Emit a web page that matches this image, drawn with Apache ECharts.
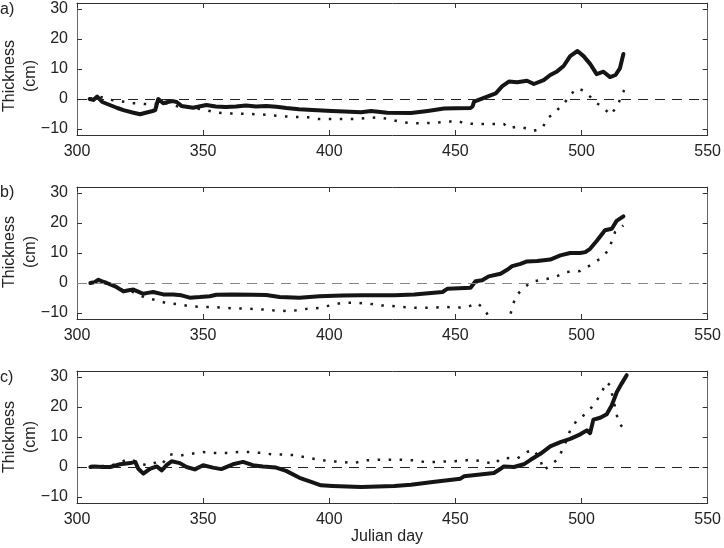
<!DOCTYPE html>
<html>
<head>
<meta charset="utf-8">
<script src="https://cdn.jsdelivr.net/npm/echarts@6/dist/echarts.min.js"></script>
<style>
html,body{margin:0;padding:0;background:#fff;}
#chart{width:724px;height:548px;}
</style>
</head>
<body>
<div id="chart"></div>
<script>
// ---- data (Julian day, thickness in cm) ----
var panelLabels = ['a)', 'b)', 'c)'];
var xTicks = [300, 350, 400, 450, 500, 550];
var yTicks = [-10, 0, 10, 20, 30];

var aSolid = [[305,0],[306.5,-0.3],[308,0.8],[310,-1],[313,-2],[316,-3],[318.4,-3.7],[322,-4.5],[325,-5.1],[327.6,-4.5],[330,-4],[331,-3.7],[332.2,0],[334.2,-1.4],[336,-1],[338,-0.7],[339.5,-1],[341.4,-2.3],[346,-2.9],[351.3,-2],[355,-2.5],[359,-2.7],[363,-2.5],[367,-2.2],[371,-2.5],[375,-2.3],[379,-2.6],[383,-3],[388,-3.4],[393.4,-3.7],[401,-4],[406,-4.2],[412.6,-4.4],[416.6,-4],[423,-4.6],[432.4,-4.7],[439,-4],[445.5,-3.2],[450,-3.1],[456,-3],[456.8,-2.5],[457.4,-0.9],[461.3,0.4],[466,1.9],[468.6,4.3],[471.2,5.8],[474.5,5.6],[478.4,6.1],[481.1,5.0],[485,6.3],[487.6,8],[490.3,9.2],[492.9,11],[495.5,14.3],[498.4,16],[500.8,14.3],[503.4,11.7],[506,8.3],[508.7,9.1],[511.3,7.3],[513.5,8],[515.2,10.2],[516.6,15]];
var aDotted = [[305,0],[307,0.5],[309.2,0.7],[313.8,-0.3],[317.8,-0.8],[322.4,-1.4],[327,-1.7],[331,-1.7],[333,-1],[336,-1.5],[340.8,-2.7],[345.4,-3],[350,-3.5],[355,-4.5],[359,-4.8],[363.8,-4.9],[368.4,-5],[373,-5.1],[377.6,-5.5],[382.2,-5.8],[386.9,-6],[391.4,-6.1],[396,-6.7],[400.7,-6.7],[405.3,-6.7],[409.9,-6.7],[413.9,-6.4],[419.2,-6.1],[423.8,-6.7],[428.4,-7.7],[433,-8.1],[437.6,-8.1],[441.6,-7.9],[446.2,-7.7],[450.8,-7.2],[453.4,-8.1],[457.4,-8.3],[461.3,-8.3],[465.3,-8.3],[469.2,-8.3],[471.2,-9.8],[474.5,-9.2],[478.4,-9.8],[481.1,-10.6],[484.4,-9.8],[486.5,-6.4],[489.1,-4.8],[491.6,-2.6],[493.6,-0.9],[495.5,1.3],[498.2,3.6],[500.8,2.8],[503.4,0.8],[506,-1.4],[508.7,-2.8],[511.3,-5.3],[513.9,-2.8],[515.8,0.8],[516.9,3]];

var bSolid = [[305.3,0],[307,0.3],[308.5,1.1],[310,0.5],[311.8,0],[315.1,-1.1],[318.4,-2.8],[320,-2.5],[322.3,-2.2],[324,-2.8],[326.3,-3.6],[328,-3.3],[330.2,-3],[334.2,-3.8],[338.1,-3.8],[341.4,-4.1],[344.7,-4.9],[348.7,-4.7],[352.6,-4.4],[355.3,-3.9],[361.8,-3.8],[369.7,-3.9],[375,-4],[380.3,-4.7],[388.2,-4.9],[396.1,-4.4],[405,-4.2],[412.6,-4.1],[425.8,-4.1],[433.7,-3.8],[444.9,-3],[446.9,-1.9],[456,-1.6],[458,0.6],[460.6,0.9],[463.2,2.2],[467.9,3.1],[470.5,4.4],[472.5,5.6],[475.8,6.4],[478.4,7.2],[482.4,7.3],[487.6,7.8],[491.6,9.2],[495.5,10],[499.5,10],[501.5,10.3],[503.4,11.4],[506,14],[509.3,17.6],[512,18.1],[513.9,20.7],[516.6,22.2]];
var bDotted = [[305.3,0],[308.5,1],[311.8,0],[315.1,-1],[318.4,-2.5],[322.3,-3],[327,-4.9],[330.9,-5.6],[335.5,-6.7],[340.1,-7.1],[345.4,-7.8],[350,-8],[354.6,-8],[359.2,-8.3],[363.8,-8.5],[368.4,-8.6],[373,-8.8],[377.6,-9.1],[382.2,-9.3],[386.9,-9.1],[391.4,-8.6],[396,-8.3],[400.7,-7.4],[405.3,-6.6],[409.9,-6.6],[415.9,-6.9],[419.2,-7.4],[423.8,-7.6],[428.4,-8],[433,-8.2],[437.6,-8.3],[441.6,-8.2],[446.2,-8],[450.8,-8.2],[454.7,-8],[458.7,-6.7],[461.3,-8.6],[463.2,-11.1],[465,-14],[468,-16],[471.2,-11.9],[472.5,-8.6],[473.8,-4.4],[476.5,-2.2],[479.8,0.3],[484.4,1.1],[489,1.8],[494.2,3.7],[499.5,4],[503.4,5.9],[507.4,8.1],[510.7,10.9],[513.3,17],[516.6,19.2]];

var cSolid = [[305.3,0],[306.9,0.2],[310,0],[313.2,0],[317.1,0.9],[321.1,1.3],[323.1,1.7],[324.3,-0.6],[326.3,-2.2],[328.9,-0.6],[331.6,0.2],[333.6,-1.1],[335.5,0.6],[337.5,1.9],[340.8,1.3],[343.4,0],[346.7,-0.8],[350,0.6],[353.9,-0.2],[357.2,-0.7],[361.8,0.9],[365.8,1.7],[369.7,0.6],[373.7,0.2],[378.9,-0.2],[382.9,-1.3],[388.2,-3.6],[393.4,-5.1],[396.7,-6.1],[401.3,-6.3],[412.6,-6.7],[425.8,-6.3],[432.4,-5.9],[441,-5],[441.6,-4.4],[452,-3.9],[453.4,-3.1],[465.3,-2],[467.9,-0.6],[469.2,0.2],[473.2,0],[477.1,0.9],[479.8,2.4],[483.7,4.4],[487.6,6.9],[491.6,8.3],[495.5,9.4],[499.5,10.9],[502.1,12.2],[503.4,11.3],[504.7,15.8],[507.4,16.4],[510,17.6],[512,20.6],[514,25],[515.9,27.8],[517.9,30.6]];
var cDotted = [[305.3,0.3],[313,0.3],[317,1.5],[319.7,2.4],[322.3,2.2],[325,0.9],[328.9,0.6],[331.6,1.7],[333.6,0.9],[336.8,4.2],[341.4,3.9],[345.4,4.4],[350,5],[354.6,4.7],[359.2,4.7],[363.8,5],[368.4,5],[373,4.7],[377.6,4.2],[382.2,4.2],[386.8,3.9],[391.4,3.1],[396,2.4],[400.7,1.9],[405.3,1.7],[409.9,1.3],[413.9,2.2],[419.2,2.4],[423.8,2.4],[428.4,2.4],[433.7,2.2],[437.6,1.7],[442.9,1.7],[447.5,1.9],[452,2],[456,2.4],[460.6,2],[465.3,0.9],[467.9,2.8],[471.9,3],[474.5,2.8],[478.4,5],[481.1,5.8],[483.7,2.2],[485,-1.1],[487,0.2],[490.3,2.4],[492.9,6.4],[495.5,12.2],[498.2,15.6],[502.1,18],[504.7,20.6],[507.4,23.9],[510,28.3],[511.3,27.2],[512.7,22.2],[514.6,15],[516.6,12.8]];

var solidSeries = [aSolid, bSolid, cSolid];
var dottedSeries = [aDotted, bDotted, cDotted];

// ---- layout / style ----
var FONT = '"Liberation Sans", Arial, Helvetica, sans-serif';
var gridTops = [3, 187, 371];
var gridH = 132;
var zeroColors = ['#222', '#888', '#222'];
var nameCenters = [76, 252, 437];
var labelCenters = [10, 193, 378];

function minus(v){ return String(v).replace('-', '\u2212'); }

var grids = [], xAxes = [], yAxes = [], series = [], graphics = [];
for (var i = 0; i < 3; i++) {
  grids.push({left: 77, right: 14, top: gridTops[i], height: gridH, containLabel: false});
  var xBase = {
    type: 'value', gridIndex: i, min: xTicks[0], max: xTicks[xTicks.length-1], interval: 50,
    splitLine: {show: false},
    axisLine: {show: true, onZero: false, lineStyle: {color: '#333', width: 1}},
    axisTick: {show: true, inside: true, length: 5, lineStyle: {color: '#333'}}
  };
  xAxes.push(Object.assign({}, xBase, {position: 'bottom',
    axisLabel: {show: true, fontSize: 16, fontFamily: FONT, color: '#222', margin: 9}}));
  xAxes.push(Object.assign({}, xBase, {position: 'top', axisLabel: {show: false}}));
  var yBase = {
    type: 'value', gridIndex: i, min: -12, max: 32,
    splitLine: {show: false},
    axisLine: {show: true, onZero: false, lineStyle: {color: '#666', width: 1}},
    axisTick: {show: true, inside: true, length: 5, customValues: yTicks, lineStyle: {color: '#333'}}
  };
  yAxes.push(Object.assign({}, yBase, {position: 'left',
    axisLabel: {show: true, customValues: yTicks, fontSize: 16, fontFamily: FONT, color: '#222', margin: 9,
      formatter: function(v){ return minus(v); }}}));
  yAxes.push(Object.assign({}, yBase, {position: 'right', axisLabel: {show: false}}));

  series.push({
    type: 'line', xAxisIndex: 2*i, yAxisIndex: 2*i, data: dottedSeries[i],
    showSymbol: false, clip: true, z: 3,
    lineStyle: {color: '#1a1a1a', width: 2.5, type: [2.5, 8.5], cap: 'butt'}
  });
  series.push({
    type: 'line', xAxisIndex: 2*i, yAxisIndex: 2*i, data: solidSeries[i],
    showSymbol: false, clip: true, z: 4,
    lineStyle: {color: '#151515', width: 4, join: 'round', cap: 'round'},
    markLine: {
      silent: true, symbol: 'none', label: {show: false}, animation: false,
      lineStyle: {color: zeroColors[i], width: 1.2, type: [10, 7]},
      data: [{yAxis: 0}]
    }
  });

  graphics.push({type: 'text', x: 0, y: labelCenters[i],
    style: {text: panelLabels[i], font: '16px ' + FONT, fill: '#222', align: 'left', verticalAlign: 'middle', textAlign: 'left', textVerticalAlign: 'middle'}});
  graphics.push({type: 'text', x: 10, y: nameCenters[i], rotation: Math.PI/2,
    style: {text: 'Thickness', font: '16px ' + FONT, fill: '#222', align: 'center', verticalAlign: 'middle', textAlign: 'center', textVerticalAlign: 'middle'}});
  graphics.push({type: 'text', x: 31, y: nameCenters[i], rotation: Math.PI/2,
    style: {text: '(cm)', font: '16px ' + FONT, fill: '#222', align: 'center', verticalAlign: 'middle', textAlign: 'center', textVerticalAlign: 'middle'}});
}
graphics.push({type: 'text', x: 387, y: 537,
  style: {text: 'Julian day', font: '16px ' + FONT, fill: '#222', align: 'center', verticalAlign: 'middle', textAlign: 'center', textVerticalAlign: 'middle'}});

var chart = echarts.init(document.getElementById('chart'), null, {renderer: 'canvas'});
chart.setOption({
  animation: false,
  backgroundColor: '#fff',
  grid: grids,
  xAxis: xAxes,
  yAxis: yAxes,
  series: series,
  graphic: graphics
});
</script>
</body>
</html>
